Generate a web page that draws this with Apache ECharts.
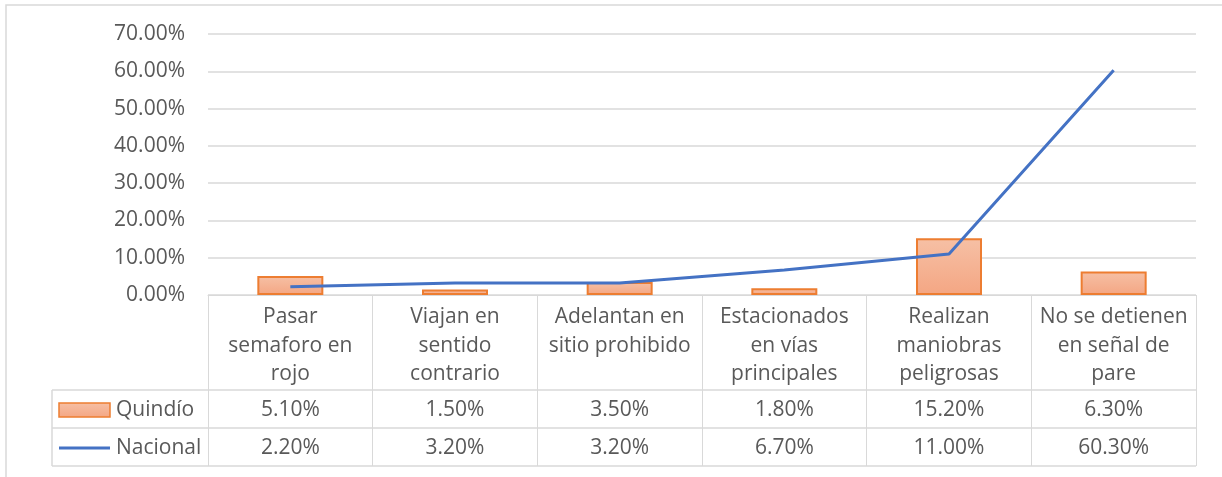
<!DOCTYPE html>
<html>
<head>
<meta charset="UTF-8">
<title>Quindío vs Nacional</title>
<script src="https://cdn.jsdelivr.net/npm/echarts@6/dist/echarts.min.js"></script>
<style>
  html, body { margin: 0; padding: 0; background: #fff; }
  #main { width: 1222px; height: 477px; }
</style>
</head>
<body>
<div id="main"></div>
<script type="text/javascript">
// datos
var categorias = [
  'Pasar\nsemaforo en\nrojo',
  'Viajan en\nsentido\ncontrario',
  'Adelantan en\nsitio prohibido',
  'Estacionados\nen vías\nprincipales',
  'Realizan\nmaniobras\npeligrosas',
  'No se detienen\nen señal de\npare'
];
var quindio = [5.1, 1.5, 3.5, 1.8, 15.2, 6.3];
var nacional = [2.2, 3.2, 3.2, 6.7, 11.0, 60.3];
var nombres = ['Quindío', 'Nacional'];

var gris = '#d9d9d9';
var texto = '#595959';
var fuente = '"Open Sans"';
var tam = 21;

var myChart = echarts.init(document.getElementById('main'));
var option = {
  animation: false,
  grid: { left: 208, right: 26, top: 34, bottom: 182 },
  xAxis: {
    type: 'category',
    data: categorias,
    boundaryGap: true,
    axisLine: { lineStyle: { color: gris, width: 1 } },
    axisTick: { show: true, length: 171, inside: false, lineStyle: { color: gris } },
    axisLabel: {
      color: texto, fontFamily: fuente, fontSize: tam, lineHeight: 28.5,
      margin: 8, align: 'center', verticalAlign: 'top', interval: 0
    }
  },
  yAxis: {
    type: 'value',
    min: 0, max: 70, interval: 10,
    axisLine: { show: false },
    axisTick: { show: false },
    splitLine: { lineStyle: { color: gris, width: 1.5 } },
    axisLabel: {
      color: texto, fontFamily: fuente, fontSize: tam, margin: 23,
      formatter: function (v) { return v.toFixed(2) + '%'; }
    }
  },
  series: [
    {
      name: nombres[0],
      type: 'bar',
      data: quindio,
      barWidth: 66,
      itemStyle: {
        color: new echarts.graphic.LinearGradient(0, 0, 0, 1, [
          { offset: 0, color: '#f6c0a5' },
          { offset: 1, color: '#f4a683' }
        ]),
        borderColor: '#ed7d31',
        borderWidth: 2
      }
    },
    {
      name: nombres[1],
      type: 'line',
      data: nacional,
      symbol: 'none',
      lineStyle: { color: '#4472c4', width: 3 }
    }
  ]
};
myChart.setOption(option);

// tabla de datos debajo del grafico
function tabla() {
  var g = [];
  var x1 = 1196, yA = 390, yB = 428, yC = 466, xL = 52;
  // borde del area del grafico
  g.push({ type: 'rect', shape: { x: 6, y: 5, width: 1240, height: 520 },
    style: { fill: null, stroke: gris, lineWidth: 1.5 }, silent: true });
  // lineas horizontales
  [yA, yB, yC].forEach(function (y) {
    g.push({ type: 'line', shape: { x1: xL, y1: y, x2: x1, y2: y }, style: { stroke: gris, lineWidth: 1.5 } });
  });
  g.push({ type: 'line', shape: { x1: xL, y1: yA, x2: xL, y2: yC }, style: { stroke: gris, lineWidth: 1.5 } });
  // valores
  var filas = [quindio, nacional];
  var ys = [(yA + yB) / 2 + 1, (yB + yC) / 2 + 1];
  filas.forEach(function (fila, r) {
    fila.forEach(function (v, i) {
      var px = myChart.convertToPixel({ xAxisIndex: 0 }, i);
      g.push({ type: 'text', x: px, y: ys[r],
        style: { text: v.toFixed(2) + '%', fill: texto, font: tam + 'px ' + fuente, align: 'center', verticalAlign: 'middle' } });
    });
  });
  // leyenda dentro de la tabla
  g.push({ type: 'rect', shape: { x: 59, y: 403, width: 51, height: 14 },
    style: { fill: new echarts.graphic.LinearGradient(0, 0, 0, 1, [
      { offset: 0, color: '#f6c0a5' }, { offset: 1, color: '#f4a683' }]), stroke: '#ed7d31', lineWidth: 1.5 } });
  g.push({ type: 'line', shape: { x1: 59, y1: ys[1], x2: 110, y2: ys[1] }, style: { stroke: '#4472c4', lineWidth: 3 } });
  nombres.forEach(function (n, r) {
    g.push({ type: 'text', x: 116, y: ys[r],
      style: { text: n, fill: texto, font: tam + 'px ' + fuente, align: 'left', verticalAlign: 'middle' } });
  });
  myChart.setOption({ graphic: g });
}
tabla();
</script>
</body>
</html>
